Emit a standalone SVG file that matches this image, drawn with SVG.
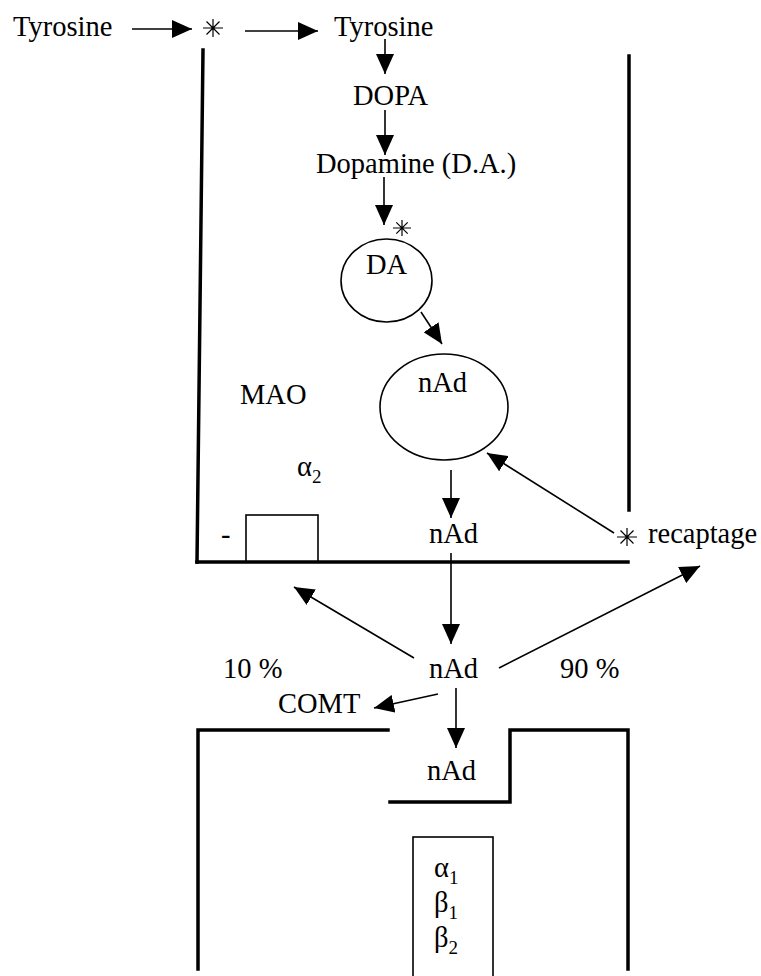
<svg xmlns="http://www.w3.org/2000/svg" width="761" height="976" viewBox="0 0 761 976">
<defs>
<marker id="ah" markerUnits="userSpaceOnUse" markerWidth="20" markerHeight="18" refX="20" refY="9" orient="auto" viewBox="0 0 20 18">
<path d="M0,0 L20,9 L0,18 z" fill="#000"/>
</marker>
</defs>
<style>
text{font-family:"Liberation Serif","Times New Roman",serif;font-size:28.5px;fill:#000}
.sub{font-size:19px}
.wall{stroke:#000;stroke-width:3.5;fill:none;stroke-linecap:square}
.thin{stroke:#000;stroke-width:1.6;fill:none}
.arr{stroke:#000;stroke-width:1.6;fill:none;marker-end:url(#ah)}
.star{stroke:#000;stroke-width:1.2;fill:none}
</style>
<rect width="761" height="976" fill="#fff"/>
<g id="membranes">
<line class="wall" x1="203" y1="50" x2="197" y2="562"/>
<line class="wall" x1="197" y1="562" x2="628" y2="562"/>
<line class="wall" x1="629" y1="56" x2="629" y2="510"/>
<polyline class="wall" points="198,969 198,730 388,730"/>
<polyline class="wall" points="390,802 510,802 510,730 628,730 628,969"/>
</g>
<g id="tyrosine-ext"><text x="13" y="36">Tyrosine</text></g>
<g id="star-transport"><path class="star" d="M213,19 V37 M203,28 H223 M206.5,21.5 L219.5,34.5 M219.5,21.5 L206.5,34.5"/></g>
<g id="tyrosine-int"><text x="334" y="36">Tyrosine</text></g>
<g id="dopa"><text x="353" y="105">DOPA</text></g>
<g id="dopamine"><text x="316" y="173">Dopamine (D.A.)</text></g>
<g id="star-vesicle"><path class="star" d="M402,220 V236 M393,228 H411 M396.3,222.3 L407.7,233.7 M407.7,222.3 L396.3,233.7"/></g>
<g id="vesicle-da">
<ellipse class="thin" cx="386.5" cy="280.5" rx="45.5" ry="41.5"/>
<text x="366" y="274">DA</text>
</g>
<g id="vesicle-nad">
<ellipse class="thin" cx="444" cy="407" rx="64" ry="53"/>
<text x="418" y="392">nAd</text>
</g>
<g id="mao"><text x="240" y="404">MAO</text></g>
<g id="alpha2-receptor">
<text x="297" y="476">α<tspan class="sub" dy="7">2</tspan></text>
<rect class="thin" x="246" y="515" width="72" height="47"/>
<text x="221" y="544">-</text>
</g>
<g id="nad-release"><text x="429" y="543">nAd</text></g>
<g id="recaptage">
<path class="star" d="M627,528 V546 M617,537 H637 M620.5,530.5 L633.5,543.5 M633.5,530.5 L620.5,543.5"/>
<text x="648" y="543">recaptage</text>
</g>
<g id="nad-cleft"><text x="429" y="678">nAd</text></g>
<g id="pct10"><text x="223" y="678">10 %</text></g>
<g id="pct90"><text x="560" y="678">90 %</text></g>
<g id="comt"><text x="278" y="713">COMT</text></g>
<g id="nad-post"><text x="427" y="780">nAd</text></g>
<g id="post-receptors">
<rect class="thin" x="413" y="837" width="80" height="140"/>
<text x="434" y="877">α<tspan class="sub" dy="7">1</tspan></text>
<text x="434" y="912">β<tspan class="sub" dy="7">1</tspan></text>
<text x="434" y="947">β<tspan class="sub" dy="7">2</tspan></text>
</g>
<g id="connectors">
<line class="arr" x1="132" y1="29" x2="192" y2="29"/>
<line class="arr" x1="245" y1="31" x2="318" y2="31"/>
<line class="arr" x1="385" y1="39" x2="385" y2="74"/>
<line class="arr" x1="385" y1="110" x2="385" y2="155"/>
<line class="arr" x1="384" y1="177" x2="384" y2="225"/>
<line class="arr" x1="421" y1="312" x2="442" y2="344"/>
<line class="arr" x1="451" y1="470" x2="451" y2="518"/>
<line class="arr" x1="614" y1="533" x2="487" y2="453"/>
<line class="arr" x1="451" y1="553" x2="451" y2="644"/>
<line class="arr" x1="414" y1="658" x2="294" y2="587"/>
<line class="arr" x1="499" y1="668" x2="700" y2="566"/>
<line class="arr" x1="438" y1="694" x2="374" y2="708"/>
<line class="arr" x1="456" y1="688" x2="456" y2="748"/>
</g>
</svg>
